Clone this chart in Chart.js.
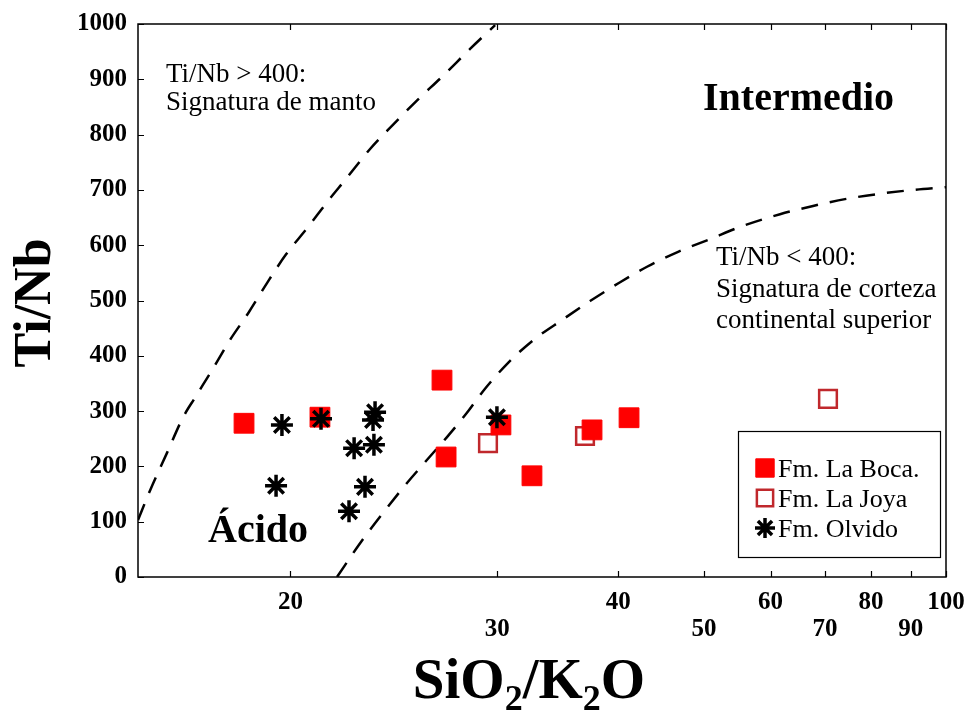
<!DOCTYPE html>
<html>
<head>
<meta charset="utf-8">
<script src="https://cdn.jsdelivr.net/npm/chart.js@4.4.1/dist/chart.umd.min.js"></script>
<style>
  html, body { margin: 0; padding: 0; background: #fff; }
  #wrap { width: 969px; height: 711px; }
</style>
</head>
<body>
<div id="wrap"><canvas id="chart" width="969" height="711"></canvas></div>
<script>
// Ti/Nb vs SiO2/K2O discrimination diagram
// x axis is spaced as log10(SiO2/K2O - 10)
const xTicks = [20, 30, 40, 50, 60, 70, 80, 90, 100];
const yTicks = [0, 100, 200, 300, 400, 500, 600, 700, 800, 900, 1000];
const xMin = 16, xMax = 100;

// [SiO2/K2O, Ti/Nb]
const laBoca = [[18.56, 278], [21.04, 289], [26.62, 356], [26.85, 217], [30.25, 275],
                [32.47, 183], [37.48, 266], [41.11, 288]];
const laJoya = [[29.39, 242], [36.84, 255], [70.6, 322]];
const olvido = [[19.72, 275], [21.08, 286], [23.28, 298], [23.19, 284], [22.38, 233],
                [23.23, 239], [19.53, 165], [22.84, 163], [22.17, 119], [29.98, 289]];

// boundary curves
const mantleLine = [[16.0, 103], [16.25, 157], [16.61, 224], [16.98, 289], [17.26, 324],
                    [17.69, 374], [18.17, 429], [18.68, 477], [19.25, 532], [19.85, 583],
                    [20.61, 633], [21.31, 678], [22.05, 720], [23.06, 774], [24.11, 818],
                    [25.29, 862], [26.7, 907], [28.26, 955], [29.86, 998]];
const crustLine = [[21.69, 0], [22.63, 61], [23.64, 116], [24.78, 170], [25.81, 212],
                   [26.90, 253], [28.07, 297], [29.07, 336], [30.66, 385], [32.55, 428],
                   [34.94, 466], [37.30, 499], [40.19, 533], [43.04, 561], [46.67, 588],
                   [50.82, 611], [55.13, 633], [61.6, 656], [67.64, 671], [74.6, 684],
                   [82.1, 693], [90.6, 700], [100, 705]];

const tx = v => Math.log10(v - 10);
const toPts = arr => arr.map(([x, y]) => ({ x: tx(x), y }));

const SERIF = "'Liberation Serif', 'Times New Roman', serif";
const RED = '#ff0000';
const OPEN_RED = '#c0282c';

const dashed = (pts) => ({
    type: 'line',
    data: toPts(pts),
    showLine: true,
    borderColor: '#000',
    borderWidth: 2.5,
    borderDash: [17, 12],
    pointRadius: 0,
    cubicInterpolationMode: 'monotone',
    order: 5,
});

// frame, inner ticks, labels, legend and axis titles
const decor = {
    id: 'decor',
    afterDraw(chart) {
        const { ctx, chartArea: a, scales: { x, y } } = chart;
        ctx.save();
        ctx.strokeStyle = '#000';
        ctx.lineWidth = 1.5;
        ctx.strokeRect(a.left, a.top, a.right - a.left, a.bottom - a.top);
        ctx.lineWidth = 1.2;
        ctx.beginPath();
        xTicks.forEach(v => {
            const px = Math.round(x.getPixelForValue(tx(v))) + 0.5;
            ctx.moveTo(px, a.bottom); ctx.lineTo(px, a.bottom - 6);
            ctx.moveTo(px, a.top); ctx.lineTo(px, a.top + 6);
        });
        yTicks.forEach(v => {
            const py = Math.round(y.getPixelForValue(v)) + 0.5;
            ctx.moveTo(a.left, py); ctx.lineTo(a.left + 6, py);
        });
        ctx.stroke();

        ctx.fillStyle = '#000';
        ctx.textBaseline = 'alphabetic';
        ctx.textAlign = 'left';
        ctx.font = `27px ${SERIF}`;
        ctx.fillText('Ti/Nb > 400:', 166, 82);
        ctx.fillText('Signatura de manto', 166, 110);
        ctx.fillText('Ti/Nb < 400:', 716, 265);
        ctx.fillText('Signatura de corteza', 716, 297);
        ctx.fillText('continental superior', 716, 328);
        ctx.font = `bold 40px ${SERIF}`;
        ctx.fillText('Intermedio', 703, 110);
        ctx.fillText('Ácido', 208, 542);

        // legend
        ctx.lineWidth = 1.2;
        ctx.strokeRect(738.5, 431.5, 202, 126);
        const items = [
            { text: 'Fm. La Boca.', style: 'rect', r: 13, fill: RED, stroke: RED, bw: 1 },
            { text: 'Fm. La Joya', style: 'rect', r: 11.5, fill: '#fff', stroke: OPEN_RED, bw: 2.5 },
            { text: 'Fm. Olvido', style: 'star', r: 10, fill: '#000', stroke: '#000', bw: 3.5 },
        ];
        ctx.font = `26px ${SERIF}`;
        items.forEach((it, i) => {
            const cy = 468 + i * 30;
            ctx.fillStyle = it.fill;
            ctx.strokeStyle = it.stroke;
            ctx.lineWidth = it.bw;
            Chart.helpers.drawPoint(ctx, { pointStyle: it.style, radius: it.r, rotation: 0, borderWidth: it.bw }, 765, cy);
            ctx.fillStyle = '#000';
            ctx.fillText(it.text, 778, cy + 9);
        });

        // axis titles
        ctx.save();
        ctx.translate(50, 303);
        ctx.rotate(-Math.PI / 2);
        ctx.textAlign = 'center';
        ctx.font = `bold 52px ${SERIF}`;
        ctx.fillText('Ti/Nb', 0, 0);
        ctx.restore();

        const big = `bold 57px ${SERIF}`, sub = `bold 36px ${SERIF}`;
        const parts = [['SiO', big, 0], ['2', sub, 12], ['/K', big, 0], ['2', sub, 12], ['O', big, 0]];
        let tw = 0;
        parts.forEach(([t, f]) => { ctx.font = f; tw += ctx.measureText(t).width; });
        let cx = 529 - tw / 2;
        parts.forEach(([t, f, dy]) => {
            ctx.font = f;
            ctx.fillText(t, cx, 698 + dy);
            cx += ctx.measureText(t).width;
        });
        ctx.restore();
    }
};

new Chart(document.getElementById('chart'), {
    type: 'scatter',
    data: {
        datasets: [
            {
                label: 'Fm. Olvido',
                data: toPts(olvido),
                pointStyle: 'star',
                pointRadius: 11,
                borderColor: '#000',
                backgroundColor: '#000',
                borderWidth: 3.5,
                order: 1,
            },
            {
                label: 'Fm. La Boca',
                data: toPts(laBoca),
                pointStyle: 'rect',
                pointRadius: 14,
                borderColor: RED,
                backgroundColor: RED,
                borderWidth: 1,
                order: 2,
            },
            {
                label: 'Fm. La Joya',
                data: toPts(laJoya),
                pointStyle: 'rect',
                pointRadius: 12.5,
                borderColor: OPEN_RED,
                backgroundColor: '#fff',
                borderWidth: 2.5,
                order: 3,
            },
            dashed(mantleLine),
            dashed(crustLine),
        ],
    },
    options: {
        responsive: false,
        animation: false,
        devicePixelRatio: 1,
        layout: { padding: { top: 24, right: 23, left: 0, bottom: 0 } },
        plugins: { legend: { display: false }, tooltip: { enabled: false } },
        scales: {
            x: {
                type: 'linear',
                min: tx(xMin),
                max: tx(xMax),
                afterBuildTicks: (s) => { s.ticks = xTicks.map(v => ({ value: tx(v) })); },
                afterFit: (s) => { s.height = 134; s.paddingLeft = 0; s.paddingRight = 0; },
                grid: { display: false, drawTicks: false },
                border: { display: false },
                ticks: {
                    autoSkip: false,
                    maxRotation: 0,
                    padding: 12,
                    color: '#000',
                    font: { family: SERIF, size: 25, weight: 'bold', lineHeight: 1.08 },
                    callback: (val, i) => i % 2 === 0 ? String(xTicks[i]) : ['', String(xTicks[i])],
                },
            },
            y: {
                min: 0,
                max: 1000,
                afterBuildTicks: (s) => { s.ticks = yTicks.map(v => ({ value: v })); },
                afterFit: (s) => { s.width = 138; s.paddingTop = 0; s.paddingBottom = 0; },
                grid: { display: false, drawTicks: false },
                border: { display: false },
                ticks: {
                    padding: 11,
                    color: '#000',
                    font: { family: SERIF, size: 25, weight: 'bold' },
                    callback: (val) => String(val),
                },
            },
        },
    },
    plugins: [decor],
});
</script>
</body>
</html>
